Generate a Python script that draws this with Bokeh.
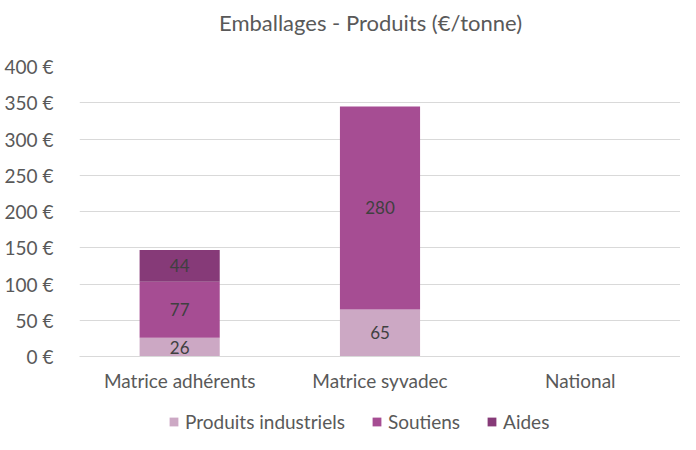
from bokeh.plotting import figure
from bokeh.layouts import column
from bokeh.models import ColumnDataSource, FixedTicker, PrintfTickFormatter, Legend, LegendItem, Range1d, Label
from bokeh.core.properties import value
from bokeh.embed import file_html
from bokeh.resources import INLINE

categories = ["Matrice adhérents", "Matrice syvadec", "National"]
series_names = ["Produits industriels", "Soutiens", "Aides"]
produits_industriels = [26, 65, 0]
soutiens = [77, 280, 0]
aides = [44, 0, 0]
y_ticks = [0, 50, 100, 150, 200, 250, 300, 350, 400]
colors = ["#CCA8C4", "#A64D93", "#863A78"]
title_text = "Emballages - Produits (€/tonne)"

FONT = "Lato"
GREY = "#595959"

# title strip
pt = figure(x_range=categories, y_range=Range1d(0, 1), width=680, height=40,
            output_backend="svg", toolbar_location=None,
            x_axis_location=None, y_axis_location=None,
            min_border_left=79, min_border_right=0, min_border_bottom=0, min_border_top=0)
pt.outline_line_color = None
pt.grid.grid_line_color = None
pt.border_fill_color = "white"
pt.add_layout(Label(x=291, y=18, x_units="screen", y_units="screen", text=title_text,
                    text_align="center", text_baseline="middle", text_font=FONT,
                    text_font_size="22px", text_color=GREY))

p = figure(x_range=categories, y_range=Range1d(0, 400), width=680, height=360,
           output_backend="svg", toolbar_location=None,
           min_border_left=79, min_border_right=0, min_border_bottom=44, min_border_top=26)
p.outline_line_color = None
p.background_fill_color = "white"
p.border_fill_color = "white"

keys = ["pi", "so", "ai"]
data = {"cat": categories, "pi": produits_industriels, "so": soutiens, "ai": aides}
src = ColumnDataSource(data)
renderers = p.vbar_stack(keys, x="cat", width=0.4, color=colors, source=src, line_color=None)

# data labels
lx, ly, lt = [], [], []
for i, c in enumerate(categories):
    base = 0
    for vals in (produits_industriels, soutiens, aides):
        v = vals[i]
        if v > 0:
            lx.append(c)
            ly.append(base + v / 2)
            lt.append(str(v))
        base += v
p.text(x=lx, y=ly, text=lt, text_align="center", text_baseline="middle",
       text_font=value(FONT), text_font_size="17px", text_color="#404040")

p.yaxis.ticker = FixedTicker(ticks=y_ticks)
p.yaxis.formatter = PrintfTickFormatter(format="%d €")
p.yaxis.axis_line_color = None
p.yaxis.major_tick_line_color = None
p.yaxis.minor_tick_line_color = None
p.yaxis.major_label_text_font = FONT
p.yaxis.major_label_text_font_size = "19px"
p.yaxis.major_label_text_color = GREY
p.yaxis.major_label_standoff = 20

p.xaxis.axis_line_color = "#D9D9D9"
p.xaxis.major_tick_line_color = None
p.xaxis.minor_tick_line_color = None
p.xaxis.major_tick_out = 0
p.xaxis.major_tick_in = 0
p.xaxis.major_label_text_font = FONT
p.xaxis.major_label_text_font_size = "19px"
p.xaxis.major_label_text_color = GREY
p.xaxis.major_label_standoff = 12

p.xgrid.grid_line_color = None
p.ygrid.grid_line_color = "#D9D9D9"
p.ygrid.ticker = FixedTicker(ticks=y_ticks)

# legend strip below the chart
pl = figure(x_range=categories, y_range=Range1d(1000, 1001), width=680, height=34,
            output_backend="svg", toolbar_location=None,
            x_axis_location=None, y_axis_location=None,
            min_border_left=0, min_border_right=0, min_border_bottom=0, min_border_top=0)
pl.outline_line_color = None
pl.grid.grid_line_color = None
pl.border_fill_color = "white"
lrenderers = pl.vbar_stack(keys, x="cat", width=0.4, color=colors, source=src, line_color=None)

items = [LegendItem(label=n, renderers=[r]) for n, r in zip(series_names, lrenderers)]
legend = Legend(items=items, orientation="horizontal", location=(89, 1),
                label_text_font=FONT, label_text_font_size="19px", label_text_color=GREY,
                glyph_width=11, glyph_height=11, spacing=26, label_standoff=6,
                border_line_color=None, background_fill_alpha=0, padding=4, margin=0)
pl.add_layout(legend, "center")

layout = column(pt, p, pl, spacing=0)
open("out.html", "w").write(file_html(layout, INLINE))
